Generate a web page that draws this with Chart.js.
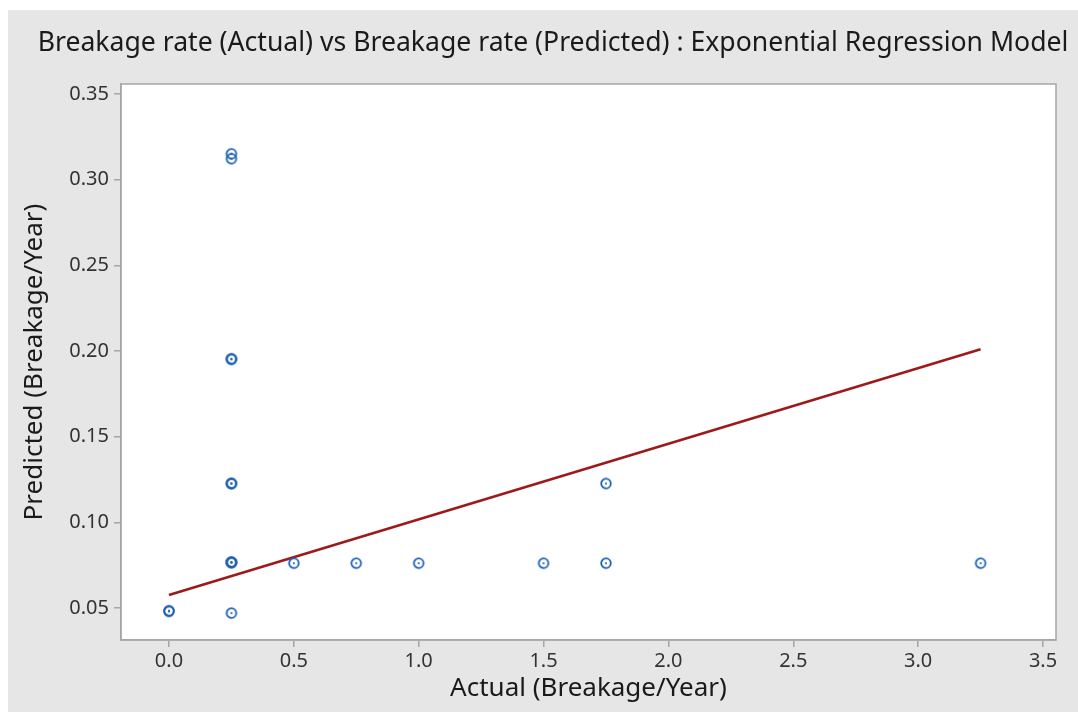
<!DOCTYPE html>
<html>
<head>
<meta charset="utf-8">
<script src="https://cdn.jsdelivr.net/npm/chart.js@4.4.1/dist/chart.umd.min.js"></script>
<style>
  html, body { margin: 0; padding: 0; background: #ffffff; }
  #wrap { position: absolute; left: 0; top: 0; width: 1078px; height: 712px; }
</style>
</head>
<body>
<div id="wrap"><canvas id="c" width="1078" height="712"></canvas></div>
<script>
// Actual vs predicted breakage rates (breakage per year)
const actual = [0, 0, 0.25, 0.25, 0.25, 0.25, 0.25, 0.25, 0.25, 0.25, 0.25, 0.25, 0.5, 0.75, 1.0, 1.5, 1.75, 1.75, 3.25];
const predicted = [0.0481, 0.0485, 0.3151, 0.3122, 0.1951, 0.1955, 0.1225, 0.1229, 0.0765, 0.0769, 0.0471, 0.0767, 0.0762, 0.0762, 0.0762, 0.0762, 0.0762, 0.1227, 0.0762];

// Fitted trend line endpoints
const fitX = [0, 3.25];
const fitY = [0.0576, 0.201];

const xTicks = [0, 0.5, 1.0, 1.5, 2.0, 2.5, 3.0, 3.5];
const yTicks = [0.05, 0.10, 0.15, 0.20, 0.25, 0.30, 0.35];

const titleText = 'Breakage rate (Actual) vs Breakage rate (Predicted) : Exponential Regression Model';
const xTitle = 'Actual (Breakage/Year)';
const yTitle = 'Predicted (Breakage/Year)';

const FONT = '"Noto Sans", "DejaVu Sans", sans-serif';
const BLUE = '#1c5fb4';
const RED = '#9e1a1a';
const FRAME = '#a6a6a6';

// Circle-with-dot marker
function makeMarker() {
  const s = 14;
  const cv = document.createElement('canvas');
  cv.width = s; cv.height = s;
  const g = cv.getContext('2d');
  g.strokeStyle = BLUE;
  g.lineWidth = 1.8;
  g.beginPath();
  g.arc(s / 2, s / 2, 4.8, 0, Math.PI * 2);
  g.stroke();
  g.fillStyle = BLUE;
  g.beginPath();
  g.arc(s / 2, s / 2, 1.1, 0, Math.PI * 2);
  g.fill();
  return cv;
}

const scatterPts = actual.map((x, i) => ({ x: x, y: predicted[i] }));
const linePts = fitX.map((x, i) => ({ x: x, y: fitY[i] }));

const frame = {
  id: 'frame',
  beforeDraw(chart) {
    const ctx = chart.ctx;
    ctx.save();
    ctx.fillStyle = '#ffffff';
    ctx.fillRect(0, 0, chart.width, chart.height);
    ctx.fillStyle = '#e6e6e6';
    ctx.fillRect(8, 10, chart.width - 8, chart.height - 10);
    const a = chart.chartArea;
    ctx.fillStyle = '#ffffff';
    ctx.fillRect(a.left, a.top, a.right - a.left, a.bottom - a.top);
    ctx.restore();
  },
  afterDraw(chart) {
    const ctx = chart.ctx;
    const a = chart.chartArea;
    ctx.save();
    ctx.strokeStyle = FRAME;
    ctx.lineWidth = 1.5;
    ctx.strokeRect(a.left, a.top, a.right - a.left, a.bottom - a.top);
    ctx.fillStyle = '#1a1a1a';
    ctx.font = '26.6px ' + FONT;
    ctx.textAlign = 'center';
    ctx.textBaseline = 'middle';
    ctx.fillText(titleText, 553, 43);
    ctx.restore();
  }
};

new Chart(document.getElementById('c'), {
  type: 'scatter',
  data: {
    datasets: [
      {
        type: 'line',
        data: linePts,
        borderColor: RED,
        borderWidth: 2.6,
        pointRadius: 0,
        fill: false,
        order: 2
      },
      {
        data: scatterPts,
        pointStyle: makeMarker(),
        pointRadius: 6,
        order: 1
      }
    ]
  },
  options: {
    responsive: false,
    animation: false,
    events: [],
    layout: { padding: { left: 0, right: 22, top: 84, bottom: 0 } },
    plugins: { legend: { display: false }, tooltip: { enabled: false }, title: { display: false } },
    scales: {
      x: {
        type: 'linear',
        min: -0.192,
        max: 3.552,
        afterBuildTicks(s) { s.ticks = xTicks.map(v => ({ value: v })); },
        afterFit(s) { s.height = 72; },
        ticks: {
          color: '#333333',
          font: { family: FONT, size: 20 },
          padding: 2,
          maxRotation: 0,
          callback: v => Number(v).toFixed(1)
        },
        grid: { drawOnChartArea: false, drawTicks: true, tickLength: 7, color: FRAME, lineWidth: 1.5 },
        border: { display: true, color: FRAME, width: 1.5 },
        title: { display: true, text: xTitle, color: '#1a1a1a', font: { family: FONT, size: 26 }, padding: { top: 8, bottom: 8 } }
      },
      y: {
        type: 'linear',
        min: 0.0314,
        max: 0.3558,
        afterBuildTicks(s) { s.ticks = yTicks.map(v => ({ value: v })); },
        afterFit(s) { s.width = 121; },
        ticks: {
          color: '#333333',
          font: { family: FONT, size: 20 },
          padding: 5,
          callback: v => Number(v).toFixed(2)
        },
        grid: { drawOnChartArea: false, drawTicks: true, tickLength: 7, color: FRAME, lineWidth: 1.5 },
        border: { display: true, color: FRAME, width: 1.5 },
        title: { display: true, text: yTitle, color: '#1a1a1a', font: { family: FONT, size: 26 }, padding: { top: 19, bottom: 19 } }
      }
    }
  },
  plugins: [frame]
});
</script>
</body>
</html>
